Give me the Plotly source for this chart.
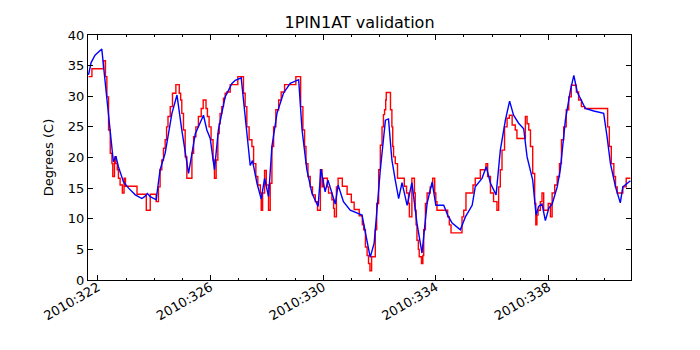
import plotly.graph_objects as go

# Day-of-year 2010 (fractional) and temperatures
blue_day = [321.67, 321.76, 321.90, 322.05, 322.14, 322.55, 322.64, 322.73, 322.91, 323.09,
            323.33, 323.56, 323.66, 323.76, 323.86, 324.07, 324.21, 324.39, 324.63, 324.81,
            324.98, 325.22, 325.46, 325.75, 325.87, 325.99, 326.14, 326.28, 326.40, 326.52,
            326.76, 326.88, 327.09, 327.23, 327.41, 327.49, 327.65, 327.80, 327.92, 328.06,
            328.18, 328.36, 328.48, 328.59, 328.83, 329.13, 329.25, 329.42, 329.60, 329.82,
            329.92, 330.07, 330.17, 330.43, 330.53, 330.72, 330.96, 331.21, 331.38, 331.67,
            331.81, 332.03, 332.21, 332.32, 332.44, 332.56, 332.68, 332.80, 332.98, 333.15,
            333.33, 333.51, 333.69, 333.87, 334.00, 334.28, 334.42, 334.58, 334.87, 335.05,
            335.29, 335.40, 335.64, 335.79, 335.94, 336.14, 336.29, 336.47, 336.62, 336.76,
            336.94, 337.12, 337.24, 337.44, 337.56, 337.65, 337.77, 337.89, 338.01, 338.13,
            338.31, 338.42, 338.60, 338.78, 338.90, 339.02, 339.19, 339.31, 339.61, 339.96,
            340.08, 340.20, 340.38, 340.55, 340.64, 340.79, 340.91]
blue_temp = [33.5, 35.5, 36.7, 37.4, 37.7, 19.3, 20.2, 18.5, 16.0, 15.0,
             13.9, 13.3, 13.6, 14.1, 13.6, 13.1, 18.0, 20.7, 27.2, 30.2,
             24.5, 17.4, 23.9, 26.9, 24.5, 23.1, 18.0, 24.5, 27.5, 29.9,
             32.1, 32.6, 33.0, 27.2, 18.7, 19.5, 15.8, 13.2, 16.6, 13.6,
             21.8, 27.2, 29.1, 30.5, 32.1, 32.7, 24.5, 18.0, 14.2, 12.0,
             18.1, 14.4, 16.3, 12.4, 15.5, 12.8, 11.4, 10.9, 10.6, 3.7,
             6.0, 18.0, 26.1, 26.3, 19.6, 16.3, 13.3, 15.9, 12.2, 15.9,
             9.3, 4.4, 12.5, 16.0, 12.2, 12.2, 10.6, 9.3, 8.2, 10.3,
             12.2, 15.2, 16.6, 18.5, 15.8, 13.9, 21.2, 26.1, 29.2, 26.9,
             25.6, 24.7, 20.1, 16.3, 10.6, 12.0, 12.4, 9.7, 11.7, 12.4,
             15.2, 18.0, 26.1, 31.0, 33.4, 30.7, 29.1, 28.0, 27.6, 27.2,
             23.4, 19.0, 15.2, 12.6, 15.2, 15.7, 16.2]

red_day = [321.67, 321.79, 322.20, 322.27, 322.32, 322.38, 322.44, 322.50, 322.53, 322.59,
           322.64, 322.69, 322.73, 322.79, 322.87, 322.93, 322.98, 323.39, 323.72, 323.86,
           324.07, 324.15, 324.21, 324.27, 324.33, 324.39, 324.44, 324.49, 324.57, 324.65,
           324.77, 324.89, 324.94, 324.98, 325.04, 325.10, 325.16, 325.34, 325.40, 325.48,
           325.57, 325.67, 325.74, 325.84, 325.89, 325.95, 326.02, 326.09, 326.14, 326.20,
           326.26, 326.31, 326.34, 326.40, 326.46, 326.52, 326.58, 326.70, 326.97, 327.17,
           327.23, 327.29, 327.37, 327.47, 327.53, 327.61, 327.68, 327.77, 327.80, 327.85,
           327.92, 327.98, 328.06, 328.12, 328.18, 328.24, 328.32, 328.42, 328.51, 328.63,
           329.03, 329.20, 329.28, 329.34, 329.39, 329.46, 329.54, 329.62, 329.72, 329.80,
           329.90, 329.96, 330.01, 330.15, 330.19, 330.31, 330.37, 330.40, 330.47, 330.53,
           330.68, 330.85, 331.00, 331.10, 331.28, 331.39, 331.44, 331.50, 331.56, 331.61,
           331.66, 331.72, 331.85, 331.90, 331.97, 332.03, 332.09, 332.14, 332.18, 332.22,
           332.24, 332.39, 332.44, 332.47, 332.50, 332.56, 332.64, 332.88, 332.96, 333.03,
           333.06, 333.15, 333.24, 333.27, 333.30, 333.33, 333.38, 333.41, 333.49, 333.54,
           333.57, 333.63, 333.69, 333.80, 333.89, 333.96, 334.00, 334.04, 334.42, 334.48,
           334.54, 334.93, 334.99, 335.07, 335.32, 335.40, 335.58, 335.78, 335.84, 335.94,
           336.05, 336.17, 336.23, 336.29, 336.35, 336.44, 336.53, 336.61, 336.71, 336.82,
           336.88, 337.18, 337.24, 337.30, 337.36, 337.44, 337.51, 337.55, 337.59, 337.63,
           337.71, 337.77, 337.83, 337.99, 338.07, 338.13, 338.22, 338.31, 338.39, 338.46,
           338.54, 338.63, 338.72, 338.81, 338.99, 339.07, 339.17, 339.29, 340.10, 340.16,
           340.23, 340.32, 340.38, 340.44, 340.64, 340.76, 340.91]
red_temp = [33.2, 34.5, 35.8, 33.2, 29.9, 24.5, 20.7, 19.0, 16.9, 20.1,
            19.0, 18.0, 16.6, 15.5, 14.2, 16.6, 15.3, 14.0, 11.4, 14.0,
            12.8, 15.2, 18.0, 19.6, 21.5, 22.9, 25.0, 26.7, 28.3, 30.5,
            31.9, 30.5, 29.4, 27.2, 24.5, 20.1, 16.6, 20.7, 23.4, 25.0,
            26.7, 28.0, 29.4, 28.0, 26.7, 25.0, 22.9, 19.6, 16.6, 19.6,
            23.9, 25.5, 27.2, 28.3, 29.7, 30.5, 30.7, 31.9, 33.2, 30.5,
            28.3, 25.0, 22.9, 21.8, 19.0, 16.9, 15.5, 14.2, 11.4, 14.2,
            17.9, 15.5, 11.4, 15.8, 21.8, 25.0, 27.8, 29.4, 30.7, 31.9,
            33.2, 28.3, 24.5, 21.8, 19.0, 16.9, 15.2, 13.9, 12.8, 11.4,
            18.0, 15.2, 16.6, 15.2, 14.2, 13.1, 11.7, 10.3, 15.2, 16.6,
            15.3, 14.0, 12.7, 11.5, 10.5, 9.0, 8.2, 5.4, 4.0, 2.7,
            1.5, 3.8, 8.2, 12.5, 18.0, 22.0, 25.0, 27.0, 27.8, 29.4,
            30.6, 27.8, 25.0, 21.8, 20.1, 19.0, 16.6, 15.3, 14.2, 12.5,
            10.3, 16.6, 14.2, 11.4, 9.0, 6.5, 5.0, 3.8, 2.7, 4.0,
            8.2, 12.5, 14.2, 15.2, 16.6, 14.2, 12.8, 11.4, 10.3, 9.0,
            7.7, 10.3, 11.4, 14.2, 15.5, 16.6, 18.0, 19.0, 16.9, 14.2,
            12.8, 11.4, 15.2, 18.0, 21.2, 25.0, 26.4, 26.9, 25.3, 24.5,
            23.1, 26.7, 25.5, 24.5, 21.8, 17.4, 12.5, 9.0, 10.6, 11.4,
            12.8, 14.2, 11.4, 12.5, 10.3, 14.2, 15.5, 16.9, 19.0, 22.9,
            25.0, 27.8, 29.9, 31.8, 30.7, 29.4, 28.3, 28.0, 25.0, 21.8,
            19.0, 16.9, 15.2, 14.2, 15.2, 16.6, 16.6]

tick_days = [322, 326, 330, 334, 338]
tick_labels = ["2010:322", "2010:326", "2010:330", "2010:334", "2010:338"]
y_ticks = [0, 5, 10, 15, 20, 25, 30, 35, 40]

fig = go.Figure()
fig.add_trace(go.Scatter(x=red_day, y=red_temp, mode="lines", line_shape="hv",
                         line=dict(color="#ff0000", width=1.4), name="telemetry"))
fig.add_trace(go.Scatter(x=blue_day, y=blue_temp, mode="lines",
                         line=dict(color="#0000ff", width=1.4), name="model"))

font = "DejaVu Sans"
fig.update_layout(
    width=700, height=350,
    margin=dict(l=80, r=77, t=27, b=78),
    paper_bgcolor="white", plot_bgcolor="white",
    showlegend=False,
    font=dict(family=font, size=13, color="black"),
    title=dict(text="1PIN1AT validation", x=0.5, xanchor="center", xref="paper",
               y=1 - 14 / 350, yanchor="middle", font=dict(family=font, size=16, color="black")),
)
fig.update_xaxes(range=[321.65, 340.93], tickmode="array", tickvals=tick_days, ticktext=tick_labels,
                 tickangle=-30, ticks="inside", ticklen=5, tickcolor="black",
                 ticklabelstandoff=-6,
                 showline=True, linecolor="black", linewidth=1, mirror="ticks",
                 showgrid=False, zeroline=False,
                 minor=dict(tickmode="linear", tick0=322, dtick=1, ticks="inside", ticklen=2,
                            tickcolor="black", showgrid=False),
                 tickfont=dict(family=font, size=13, color="black"))
fig.update_yaxes(range=[0, 40], tickmode="array", tickvals=y_ticks,
                 ticks="inside", ticklen=5, tickcolor="black",
                 showline=True, linecolor="black", linewidth=1, mirror="ticks",
                 showgrid=False, zeroline=False,
                 title=dict(text="Degrees (C)", font=dict(family=font, size=13, color="black"), standoff=11),
                 tickfont=dict(family=font, size=13, color="black"))

fig.write_html("out.html")
